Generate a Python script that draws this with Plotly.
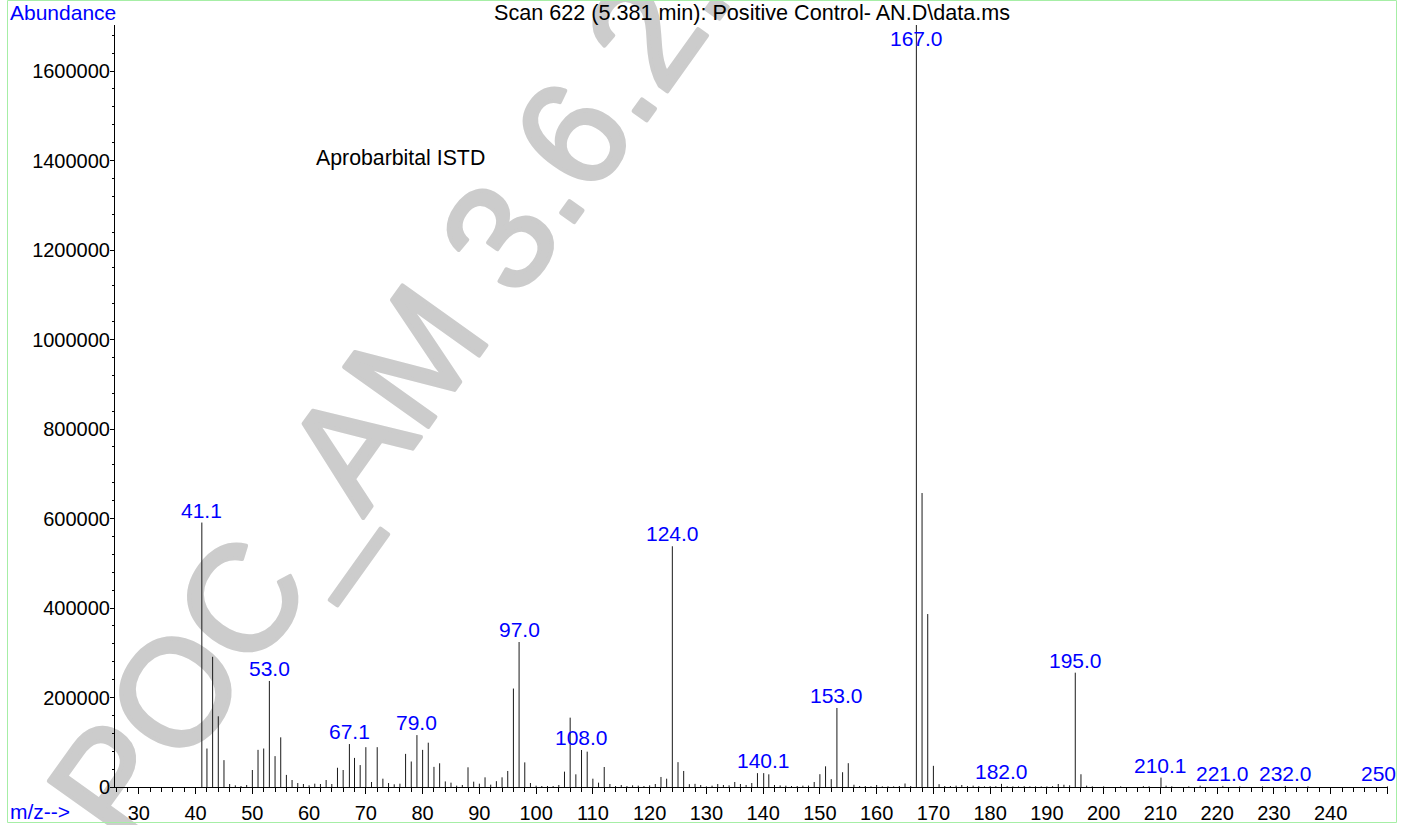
import plotly.graph_objects as go

# ---------------- data ----------------
mz = [41.1, 42, 43, 44, 45, 46, 47, 48, 49, 50, 51, 52, 53, 54, 55, 56, 57, 58, 59, 60,
      61, 62, 63, 64, 65, 66, 67.1, 68, 69, 70, 71, 72, 73, 74, 75, 76, 77, 78, 79, 80,
      81, 82, 83, 84, 85, 86, 87, 88, 89, 90, 91, 92, 93, 94, 95, 96, 97, 98, 99, 100,
      101, 102, 103, 104, 105, 106, 107, 108, 109, 110, 111, 112, 113, 114, 115, 116, 117, 118, 119, 120,
      121, 122, 123, 124, 125, 126, 127, 128, 129, 130, 131, 132, 133, 134, 135, 136, 137, 138, 139, 140.1,
      141, 142, 143, 144, 145, 146, 147, 148, 149, 150, 151, 152, 153, 154, 155, 156, 157, 158, 159, 160,
      161, 162, 163, 164, 165, 166, 167, 168, 169, 170, 171, 172, 173, 174, 175, 176, 177, 178, 179, 180,
      181, 182, 183, 184, 185, 186, 187, 188, 189, 190, 191, 192, 193, 194, 195, 196, 197, 198, 200, 203,
      207, 208, 210.1, 211, 212, 215, 217, 221, 224, 228, 232, 236, 250]
abundance = [591000, 86000, 291000, 158000, 60000, 6700, 3700, 2200, 4500, 38000, 83000, 86000, 237000, 69000, 111000, 27000, 15600, 8900, 6700, 3700,
             7400, 6700, 15600, 6700, 43000, 38000, 96000, 65000, 49000, 89000, 11200, 89000, 18600, 8900, 6000, 7400, 74000, 57000, 116000, 83000,
             99000, 45000, 53000, 12500, 9700, 3000, 4500, 44000, 11900, 7400, 21600, 5200, 13000, 21600, 35800, 220000, 324000, 55000, 8900, 3000,
             2200, 2200, 2200, 4500, 34300, 155000, 28300, 82700, 79000, 18600, 9700, 44700, 6700, 2200, 4500, 2200, 3700, 3000, 2200, 3700,
             6700, 22400, 18600, 538000, 55500, 35800, 6300, 7000, 4500, 1500, 3000, 6700, 4500, 3700, 11200, 6700, 4500, 8900, 31000, 31000,
             28300, 4500, 3500, 3000, 2200, 2200, 3000, 3200, 11200, 28600, 46200, 17500, 176600, 33000, 53200, 5000, 2200, 2200, 1500, 4500,
             1500, 1500, 1500, 2200, 7800, 2200, 1703000, 657000, 386500, 47300, 6300, 2200, 2200, 3000, 4500, 2200, 3000, 2000, 1500, 2000,
             2000, 7000, 2000, 1500, 1500, 2000, 1500, 1500, 1500, 1500, 2000, 6700, 5000, 3700, 255500, 28500, 3000, 1500, 1500, 1500,
             2000, 1500, 21000, 3000, 1500, 1500, 3000, 2500, 1500, 1500, 2500, 1500, 1500]

peak_label_mz = [41.1, 53.0, 67.1, 79.0, 97.0, 108.0, 124.0, 140.1, 153.0, 167.0,
                 182.0, 195.0, 210.1, 221.0, 232.0, 250.0]
peak_label_text = ["41.1", "53.0", "67.1", "79.0", "97.0", "108.0", "124.0", "140.1", "153.0", "167.0",
                   "182.0", "195.0", "210.1", "221.0", "232.0", "250.0"]

title_text = "Scan 622 (5.381 min): Positive Control- AN.D\\data.ms"
compound_text = "Aprobarbital ISTD"
watermark_text = "POC_AM 3.6.2."

X_RANGE = [25.8, 250.1]
Y_RANGE = [0, 1703000]

FONT = "Liberation Sans, Arial, Helvetica, sans-serif"
BLUE = "#0000ff"
WM_GRAY = "#cccccc"

# ---------------- figure ----------------
W, H = 1397, 825
ML, MR, MT, MB = 115, 9, 25, 38
PW, PH = W - ML - MR, H - MT - MB


def px_x(p):
    return (p - ML) / PW


def px_y(p):
    return (H - MB - p) / PH


xs, ys = [], []
for m, a in zip(mz, abundance):
    xs += [m, m, None]
    ys += [0, a, None]

fig = go.Figure()
fig.add_trace(go.Scatter(x=xs, y=ys, mode="lines",
                         line=dict(color="#1a1a1a", width=1),
                         hoverinfo="skip", showlegend=False, cliponaxis=False))

annotations = []
ab_lookup = dict(zip(mz, abundance))
for m, t in zip(peak_label_mz, peak_label_text):
    near = min(mz, key=lambda v: abs(v - m))
    val = ab_lookup[near]
    if val > 0.97 * Y_RANGE[1]:
        annotations.append(dict(x=m, y=Y_RANGE[1], xref="x", yref="y", text=t,
                                showarrow=False, yanchor="top", xanchor="center",
                                yshift=0, font=dict(color=BLUE, size=21, family=FONT)))
    else:
        annotations.append(dict(x=m, y=val, xref="x", yref="y", text=t,
                                showarrow=False, yanchor="bottom", xanchor="center",
                                yshift=-1, font=dict(color=BLUE, size=21, family=FONT)))

annotations += [
    dict(x=px_x(8), y=px_y(12), xref="paper", yref="paper", text="Abundance",
         showarrow=False, xanchor="left", yanchor="middle",
         font=dict(color=BLUE, size=21, family=FONT)),
    dict(x=px_x(8), y=px_y(811), xref="paper", yref="paper", text="m/z-->",
         showarrow=False, xanchor="left", yanchor="middle",
         font=dict(color=BLUE, size=21, family=FONT)),
    dict(x=px_x(752), y=px_y(12), xref="paper", yref="paper", text=title_text,
         showarrow=False, xanchor="center", yanchor="middle",
         font=dict(color="#000000", size=21.6, family=FONT)),
    dict(x=px_x(314), y=px_y(158), xref="paper", yref="paper", text=compound_text,
         showarrow=False, xanchor="left", yanchor="middle",
         font=dict(color="#000000", size=21.3, family=FONT)),
]

WM_CX, WM_CY = 377, 385
wm_html = ('<span style="stroke:%s;stroke-width:4px;stroke-linejoin:round">%s</span>'
           % (WM_GRAY, watermark_text))
shapes = [
    # watermark (drawn beneath the data)
    dict(type="rect", xref="paper", yref="paper", layer="below",
         x0=px_x(WM_CX - 50), x1=px_x(WM_CX + 50), y0=px_y(WM_CY + 50), y1=px_y(WM_CY - 50),
         line=dict(width=0), fillcolor="rgba(0,0,0,0)",
         label=dict(text=wm_html, textangle=-54.5, textposition="middle center",
                    font=dict(size=150, color=WM_GRAY, family=FONT))),
    # light green frame
    dict(type="rect", xref="paper", yref="paper", layer="above",
         x0=px_x(7.5), x1=px_x(1396.5), y0=px_y(822.5), y1=px_y(0.5),
         line=dict(color="#a6eea6", width=1), fillcolor="rgba(0,0,0,0)"),
]

fig.update_layout(
    width=W, height=H,
    margin=dict(l=ML, r=MR, t=MT, b=MB, pad=0, autoexpand=False),
    paper_bgcolor="white", plot_bgcolor="white",
    font=dict(family=FONT, size=21, color="#000000"),
    annotations=annotations, shapes=shapes,
    xaxis=dict(range=X_RANGE, showgrid=False, zeroline=False, showline=True,
               automargin=False,
               linecolor="#000000", linewidth=1, ticks="outside", ticklen=6,
               tickcolor="#000000", tickwidth=1, tick0=0, dtick=10,
               tickfont=dict(size=20, family=FONT, color="#000000"),
               ticklabelstandoff=2,
               minor=dict(ticks="outside", ticklen=4, dtick=2, tick0=0,
                          tickcolor="#000000", showgrid=False)),
    yaxis=dict(range=Y_RANGE, showgrid=False, zeroline=False, showline=True,
               automargin=False,
               linecolor="#000000", linewidth=1, ticks="outside", ticklen=4,
               tickcolor="#000000", tickwidth=1, tick0=0, dtick=200000,
               tickformat="d",
               tickfont=dict(size=20, family=FONT, color="#000000"),
               ticklabelstandoff=-4,
               minor=dict(ticks="outside", ticklen=2, dtick=40000, tick0=0,
                          tickcolor="#000000", showgrid=False)),
)

fig.write_html("out.html", config={"displayModeBar": False},
               post_script="document.body.style.margin='0';")
